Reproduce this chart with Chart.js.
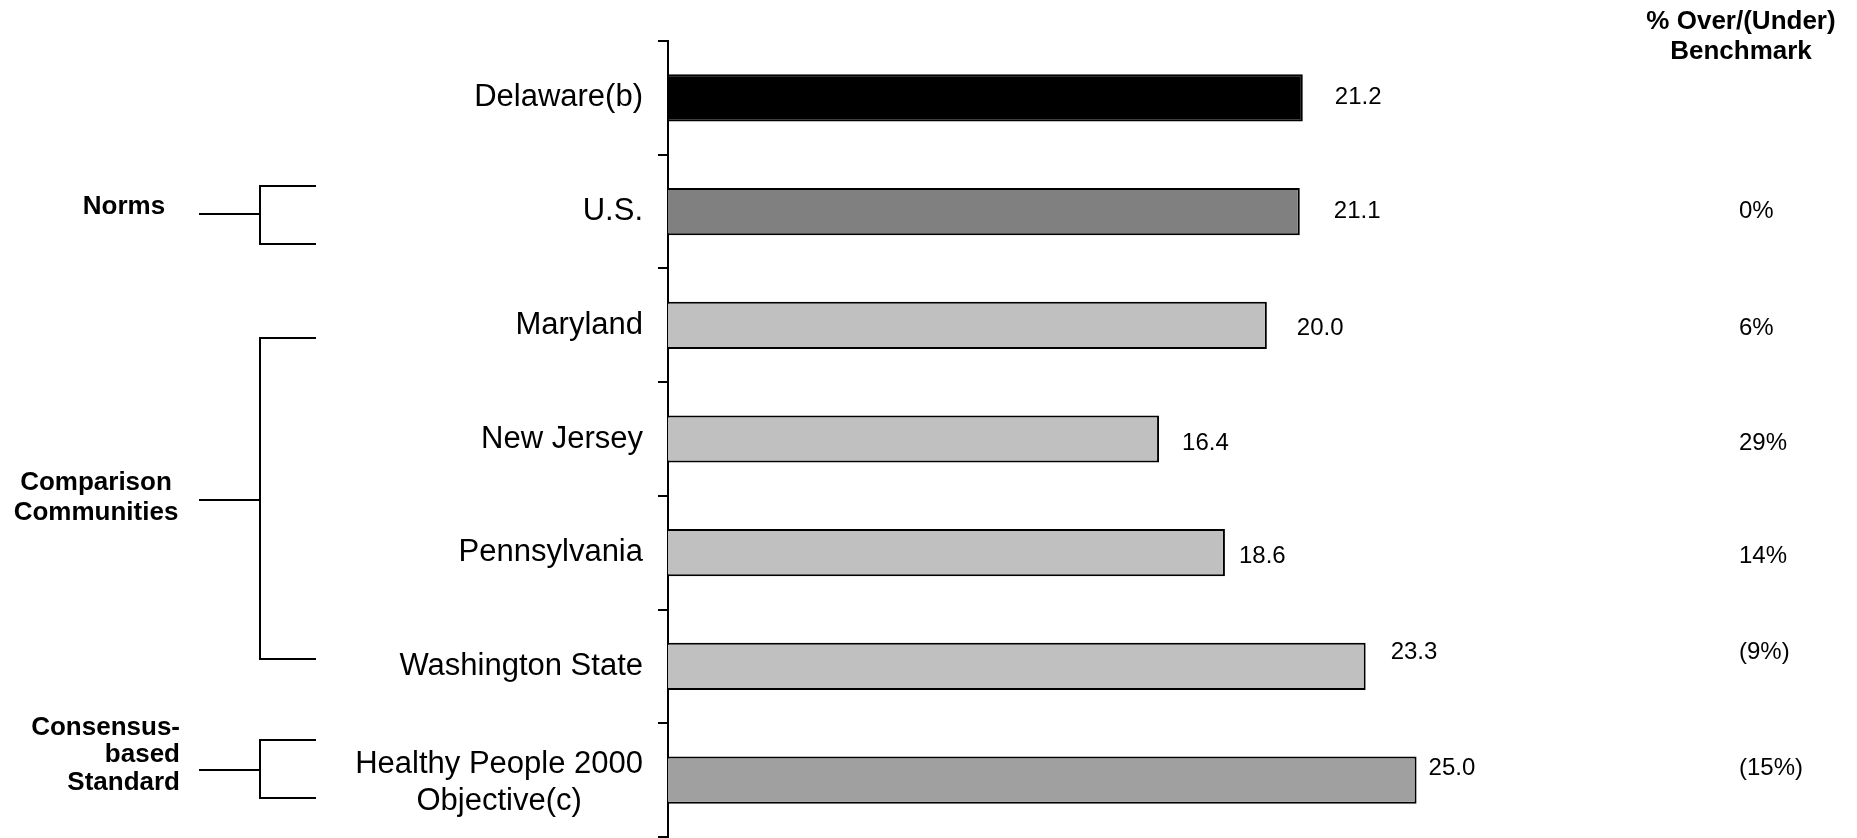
<!DOCTYPE html>
<html>
<head>
<meta charset="utf-8">
<script src="https://cdn.jsdelivr.net/npm/chart.js@4.4.1/dist/chart.umd.min.js"></script>
<style>
  html, body { margin: 0; padding: 0; background: #fff; }
  #wrap { position: relative; width: 1857px; height: 838px; }
</style>
</head>
<body>
<div id="wrap"><canvas id="chart"></canvas></div>
<script>
// data
const categories = ['Delaware(b)', 'U.S.', 'Maryland', 'New Jersey', 'Pennsylvania', 'Washington State', ['Healthy People 2000', 'Objective(c)']];
const values = [21.2, 21.1, 20.0, 16.4, 18.6, 23.3, 25.0];
const overUnder = ['', '0%', '6%', '29%', '14%', '(9%)', '(15%)'];
const barColors = ['#000000', '#808080', '#c0c0c0', '#c0c0c0', '#c0c0c0', '#c0c0c0', '#a0a0a0'];

// little nudges for the value / % labels, as in the original slide
const valueGap = [32, 34, 30, 23, 14, 25, 12];
const rowShift = [0, 0, 3, 4, 4, -14, -12];

const FONT = '"Liberation Sans", Arial, sans-serif';
Chart.defaults.font.family = FONT;
Chart.defaults.color = '#000';

// left-hand group brackets
const brackets = [
  { lines: ['Norms'], align: 'center', tx: 124, ty: [207], top: 186, bottom: 244, stem: 214 },
  { lines: ['Comparison', 'Communities'], align: 'center', tx: 96, ty: [483, 513], top: 338, bottom: 659, stem: 500 },
  { lines: ['Consensus-', 'based', 'Standard'], align: 'right', tx: 180, ty: [728, 755, 783], top: 740, bottom: 798, stem: 770 }
];

const annotations = {
  id: 'annotations',
  afterDatasetsDraw(chart) {
    const ctx = chart.ctx;
    const yScale = chart.scales.y;
    const meta = chart.getDatasetMeta(0);
    ctx.save();
    ctx.fillStyle = '#000';
    ctx.textBaseline = 'middle';

    // category labels (multi-line ones are centred on themselves, like the slide)
    ctx.font = '31px ' + FONT;
    const labelRight = yScale.right - 25;
    yScale.getLabels().forEach((lab, i) => {
      const cy = yScale.getPixelForValue(i);
      if (Array.isArray(lab)) {
        const w = Math.max(...lab.map(t => ctx.measureText(t).width));
        ctx.textAlign = 'center';
        lab.forEach((t, k) => ctx.fillText(t, labelRight - w / 2, cy + 3 + (k - (lab.length - 1) / 2) * 37));
      } else {
        ctx.textAlign = 'right';
        ctx.fillText(lab, labelRight, cy);
      }
    });

    // value labels + % column
    ctx.font = '24px ' + FONT;
    ctx.textAlign = 'left';
    meta.data.forEach((bar, i) => {
      const yy = yScale.getPixelForValue(i) + rowShift[i];
      ctx.fillText(values[i].toFixed(1), bar.x + valueGap[i], yy);
      if (overUnder[i]) ctx.fillText(overUnder[i], 1739, yy);
    });

    // header
    ctx.font = 'bold 26px ' + FONT;
    ctx.textAlign = 'center';
    ctx.fillText('% Over/(Under)', 1741, 22);
    ctx.fillText('Benchmark', 1741, 52);

    // groups
    ctx.strokeStyle = '#000';
    ctx.lineWidth = 2;
    brackets.forEach(b => {
      ctx.textAlign = b.align;
      b.lines.forEach((t, k) => ctx.fillText(t, b.tx, b.ty[k]));
      ctx.beginPath();
      ctx.moveTo(199, b.stem); ctx.lineTo(260, b.stem);
      ctx.moveTo(260, b.top); ctx.lineTo(260, b.bottom);
      ctx.moveTo(259, b.top); ctx.lineTo(316, b.top);
      ctx.moveTo(259, b.bottom); ctx.lineTo(316, b.bottom);
      ctx.stroke();
    });
    ctx.restore();
  }
};

new Chart(document.getElementById('chart').getContext('2d'), {
  type: 'bar',
  data: {
    labels: categories,
    datasets: [{
      data: values,
      backgroundColor: barColors,
      borderColor: '#000',
      borderWidth: 2,
      categoryPercentage: 1,
      barPercentage: 0.415
    }]
  },
  options: {
    indexAxis: 'y',
    responsive: true,
    maintainAspectRatio: false,
    animation: false,
    layout: { padding: { top: 41, bottom: 1, left: 0, right: 141 } },
    plugins: { legend: { display: false }, tooltip: { enabled: false } },
    scales: {
      x: { display: false, min: 0, max: 35 },
      y: {
        grid: { drawOnChartArea: false, drawTicks: true, tickLength: 10, color: '#000', lineWidth: 2, offset: true },
        border: { display: true, color: '#000', width: 2 },
        ticks: { display: false },
        afterFit(scale) {
          scale.width = 668;
          // let the category axis run the full plot height
          scale.paddingTop = 0;
          scale.paddingBottom = 0;
        }
      }
    }
  },
  plugins: [annotations]
});
</script>
</body>
</html>
